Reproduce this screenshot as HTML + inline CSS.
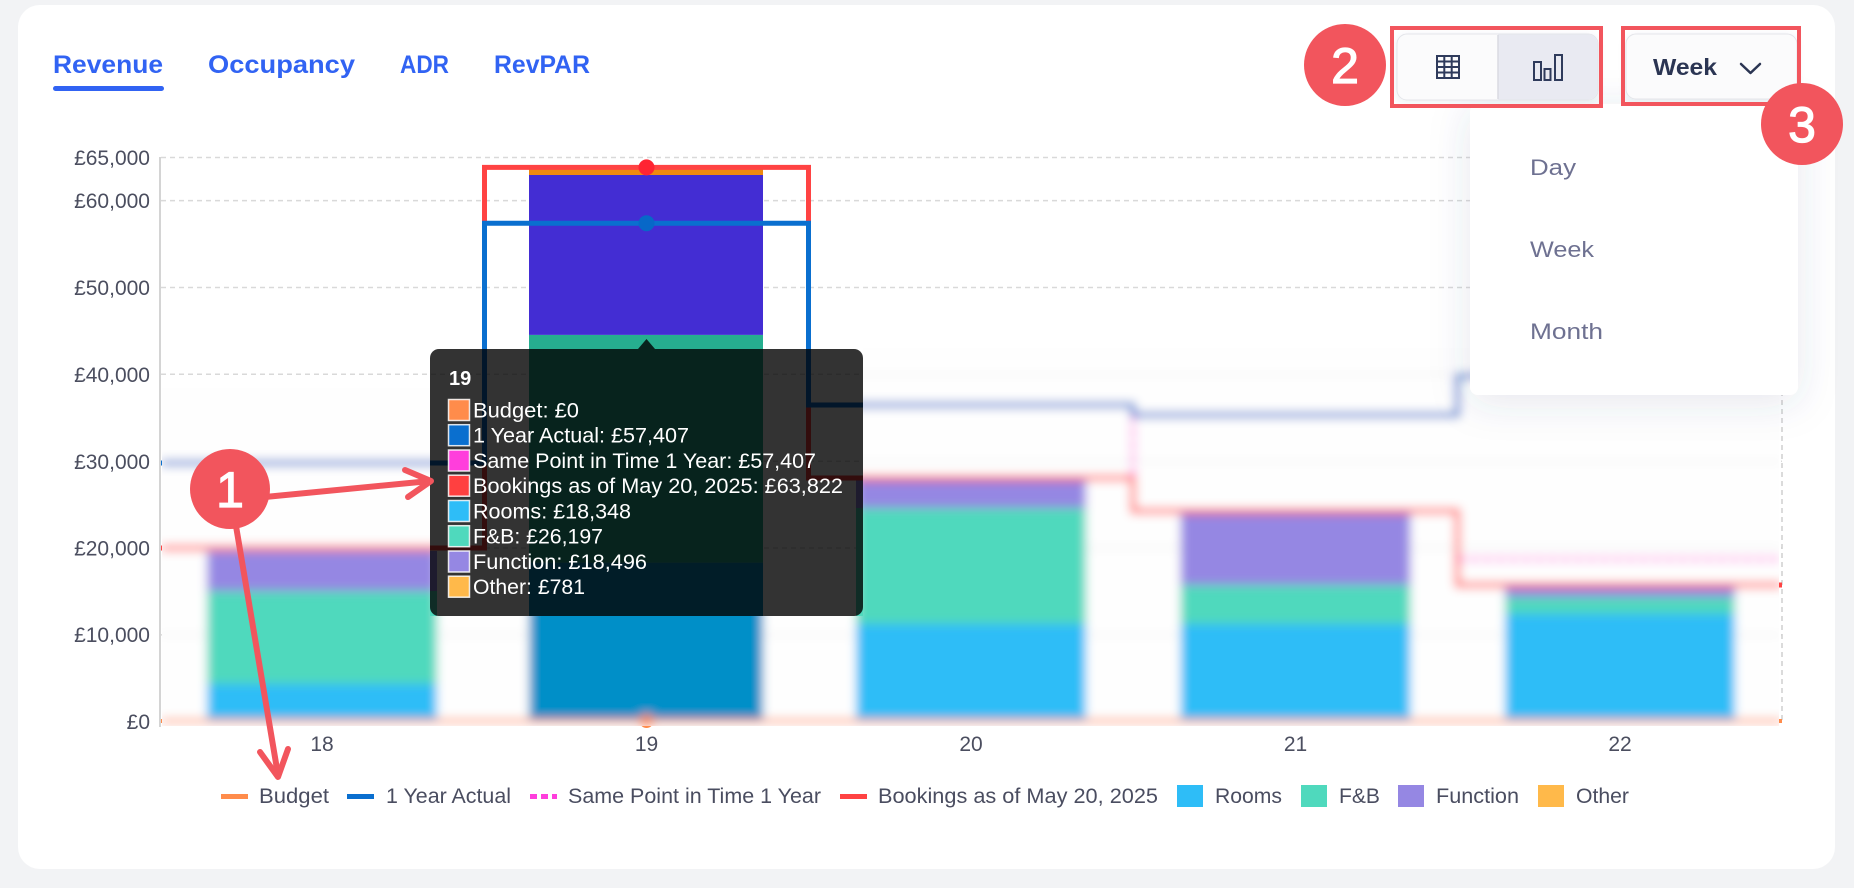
<!DOCTYPE html>
<html><head><meta charset="utf-8"><title>Revenue chart</title>
<style>
html,body{margin:0;padding:0;background:#f2f3f5;}
svg{display:block;}
text{font-family:"Liberation Sans",Arial,sans-serif;}
</style></head>
<body>
<svg width="1854" height="888" viewBox="0 0 1854 888" xmlns="http://www.w3.org/2000/svg">
<defs>
  <filter id="bl" x="-5%" y="-10%" width="110%" height="120%">
    <feGaussianBlur stdDeviation="5"/>
  </filter>
  <filter id="sh" x="-40%" y="-40%" width="180%" height="180%">
    <feGaussianBlur in="SourceAlpha" stdDeviation="20" result="b"/>
    <feOffset in="b" dy="6" result="o"/>
    <feFlood flood-color="#3a4a7a" flood-opacity="0.13"/>
    <feComposite in2="o" operator="in" result="s"/>
    <feMerge><feMergeNode in="s"/><feMergeNode in="SourceGraphic"/></feMerge>
  </filter>
  <filter id="sh2" x="-20%" y="-40%" width="140%" height="180%">
    <feGaussianBlur in="SourceAlpha" stdDeviation="4" result="b"/>
    <feOffset in="b" dy="2" result="o"/>
    <feFlood flood-color="#3a4a7a" flood-opacity="0.08"/>
    <feComposite in2="o" operator="in" result="s"/>
    <feMerge><feMergeNode in="s"/><feMergeNode in="SourceGraphic"/></feMerge>
  </filter>
  <clipPath id="bc">
    <rect x="162" y="388" width="268" height="338"/>
    <rect x="430" y="616" width="433" height="110"/>
    <rect x="863" y="348" width="916" height="378"/>
  </clipPath>
</defs>

<!-- page background & card -->
<rect x="0" y="0" width="1854" height="888" fill="#f2f3f5"/>
<rect x="18" y="5" width="1817" height="864" rx="22" fill="#ffffff"/>

<!-- tabs -->
<text x="53" y="73" font-size="25" font-weight="bold" fill="#3163f3" textLength="110" lengthAdjust="spacingAndGlyphs">Revenue</text>
<text x="208" y="73" font-size="25" font-weight="bold" fill="#3163f3" textLength="147" lengthAdjust="spacingAndGlyphs">Occupancy</text>
<text x="400" y="73" font-size="25" font-weight="bold" fill="#3163f3" textLength="49" lengthAdjust="spacingAndGlyphs">ADR</text>
<text x="494" y="73" font-size="25" font-weight="bold" fill="#3163f3" textLength="96" lengthAdjust="spacingAndGlyphs">RevPAR</text>
<rect x="53" y="86" width="111" height="5" rx="2.5" fill="#3163f3"/>

<!-- y axis labels -->
<g font-size="21" fill="#4b4e5f" text-anchor="end">
  <text x="150" y="165">£65,000</text>
  <text x="150" y="208">£60,000</text>
  <text x="150" y="295">£50,000</text>
  <text x="150" y="382">£40,000</text>
  <text x="150" y="469">£30,000</text>
  <text x="150" y="555.5">£20,000</text>
  <text x="150" y="642">£10,000</text>
  <text x="150" y="729">£0</text>
</g>

<!-- ========== SHARP CHART ========== -->
<g>
  <g stroke="#d9d9d9" stroke-width="1.5" stroke-dasharray="5 4" fill="none">
    <path d="M161,157.5H1782M161,200.6H1782M161,287.5H1782M161,374.3H1782M161,461.2H1782M161,548H1782M161,634.9H1782"/>
    <path d="M1782,157V722" stroke="#cfcfcf"/>
  </g>
  <!-- bars -->
  <rect x="207" y="684" width="230" height="36" fill="#2ebdf7"/>
  <rect x="207" y="591" width="230" height="93" fill="#4fd9bd"/>
  <rect x="207" y="551" width="230" height="40" fill="#9587e3"/>

  <rect x="529" y="562.6" width="234" height="157.4" fill="#068fc8"/>
  <rect x="529" y="334.9" width="234" height="227.7" fill="#26ae8f"/>
  <rect x="529" y="175" width="234" height="159.9" fill="#432dd3"/>
  <rect x="529" y="167.4" width="234" height="7.6" fill="#ee8a10"/>

  <rect x="856" y="624" width="230" height="96" fill="#2ebdf7"/>
  <rect x="856" y="508" width="230" height="116" fill="#4fd9bd"/>
  <rect x="856" y="478" width="230" height="30" fill="#9587e3"/>

  <rect x="1180.5" y="624" width="230" height="96" fill="#2ebdf7"/>
  <rect x="1180.5" y="585" width="230" height="39" fill="#4fd9bd"/>
  <rect x="1180.5" y="512" width="230" height="73" fill="#9587e3"/>

  <rect x="1505" y="614" width="230" height="106" fill="#2ebdf7"/>
  <rect x="1505" y="597" width="230" height="17" fill="#4fd9bd"/>
  <rect x="1505" y="587" width="230" height="10" fill="#9587e3"/>

  <!-- lines -->
  <path d="M161,721H1782" stroke="#ff8c4b" stroke-width="4" fill="none"/>
  <path d="M161,463H484.5V223.2H808.5V405H1133V511H1457.5V559H1782" stroke="#ff3edc" stroke-width="4" stroke-dasharray="8 5" fill="none"/>
  <path d="M161,548H484.5V167.4H808.5V478H1133V511H1457.5V585H1782" stroke="#ff4343" stroke-width="5" fill="none"/>
  <path d="M161,463H484.5V223.2H808.5V405H1133V415H1457.5V376H1782" stroke="#0a6fcf" stroke-width="5" fill="none"/>
  <circle cx="646.5" cy="721" r="7" fill="#ff8c4b"/>
  <circle cx="646.5" cy="167.4" r="8" fill="#ff2432"/>
  <circle cx="646.5" cy="223.2" r="8" fill="#0768c8"/>
</g>
<line x1="160" y1="157" x2="160" y2="727" stroke="#c5c5c5" stroke-width="1.5"/>

<!-- ========== BLURRED OVERLAY ========== -->
<g clip-path="url(#bc)">
 <g filter="url(#bl)">
  <rect x="100" y="300" width="1750" height="500" fill="#fefefe"/>
  <g stroke="#d9d9d9" stroke-width="1.5" stroke-dasharray="5 4" fill="none">
    <path d="M161,374.3H1782M161,461.2H1782M161,548H1782M161,634.9H1782"/>
  </g>
  <rect x="207" y="684" width="230" height="36" fill="#2ebdf7"/>
  <rect x="207" y="591" width="230" height="93" fill="#4fd9bd"/>
  <rect x="207" y="551" width="230" height="40" fill="#9587e3"/>

  <rect x="529" y="562.6" width="234" height="157.4" fill="#068fc8"/>
  <rect x="529" y="334.9" width="234" height="227.7" fill="#26ae8f"/>

  <rect x="856" y="624" width="230" height="96" fill="#2ebdf7"/>
  <rect x="856" y="508" width="230" height="116" fill="#4fd9bd"/>
  <rect x="856" y="478" width="230" height="30" fill="#9587e3"/>

  <rect x="1180.5" y="624" width="230" height="96" fill="#2ebdf7"/>
  <rect x="1180.5" y="585" width="230" height="39" fill="#4fd9bd"/>
  <rect x="1180.5" y="512" width="230" height="73" fill="#9587e3"/>

  <rect x="1505" y="614" width="230" height="106" fill="#2ebdf7"/>
  <rect x="1505" y="597" width="230" height="17" fill="#4fd9bd"/>
  <rect x="1505" y="587" width="230" height="10" fill="#9587e3"/>

  <path d="M161,721H1782" stroke="#ff8c4b" stroke-width="4" fill="none"/>
  <path d="M161,463H484.5V223.2H808.5V405H1133V511H1457.5V559H1782" stroke="#ff3edc" stroke-width="4" stroke-dasharray="8 5" fill="none"/>
  <path d="M161,548H484.5V167.4H808.5V478H1133V511H1457.5V585H1782" stroke="#ff4343" stroke-width="5" fill="none"/>
  <path d="M161,463H484.5V223.2H808.5V405H1133V415H1457.5V376H1782" stroke="#0a6fcf" stroke-width="5" fill="none"/>
  <circle cx="646.5" cy="721" r="7" fill="#ff8c4b"/>
 </g>
</g>

<!-- x labels -->
<g font-size="21" fill="#4b4e5f" text-anchor="middle">
  <text x="322" y="751">18</text>
  <text x="646.5" y="751">19</text>
  <text x="971" y="751">20</text>
  <text x="1295.5" y="751">21</text>
  <text x="1620" y="751">22</text>
</g>

<!-- legend -->
<g font-size="21.5" fill="#4a4d60">
  <rect x="221" y="794" width="27" height="5" fill="#ff8c4b"/>
  <text x="259" y="803" textLength="70" lengthAdjust="spacingAndGlyphs">Budget</text>
  <rect x="347" y="794" width="27" height="5" fill="#0a6fcf"/>
  <text x="386" y="803" textLength="125" lengthAdjust="spacingAndGlyphs">1 Year Actual</text>
  <rect x="530" y="794" width="7" height="5" fill="#ff3edc"/>
  <rect x="541" y="794" width="7" height="5" fill="#ff3edc"/>
  <rect x="552" y="794" width="5" height="5" fill="#ff3edc"/>
  <text x="568" y="803" textLength="253" lengthAdjust="spacingAndGlyphs">Same Point in Time 1 Year</text>
  <rect x="840" y="794" width="27" height="5" fill="#ff4343"/>
  <text x="878" y="803" textLength="280" lengthAdjust="spacingAndGlyphs">Bookings as of May 20, 2025</text>
  <rect x="1177" y="785" width="26" height="22" fill="#2ebdf7"/>
  <text x="1215" y="803" textLength="67" lengthAdjust="spacingAndGlyphs">Rooms</text>
  <rect x="1301" y="785" width="26" height="22" fill="#4fd9bd"/>
  <text x="1339" y="803" textLength="41" lengthAdjust="spacingAndGlyphs">F&amp;B</text>
  <rect x="1398" y="785" width="26" height="22" fill="#9587e3"/>
  <text x="1436" y="803" textLength="83" lengthAdjust="spacingAndGlyphs">Function</text>
  <rect x="1538" y="785" width="26" height="22" fill="#ffb94a"/>
  <text x="1576" y="803" textLength="53" lengthAdjust="spacingAndGlyphs">Other</text>
</g>

<!-- tooltip -->
<g>
  <rect x="430" y="349" width="433" height="267" rx="9" fill="#000" fill-opacity="0.8"/>
  <path d="M638,349L646.5,339L655,349Z" fill="#000" fill-opacity="0.8"/>
  <text x="449" y="385" font-size="20" font-weight="bold" fill="#fff">19</text>
  <g stroke="#ffffff" stroke-opacity="0.85" stroke-width="1.5">
    <rect x="448.5" y="399.5" width="21" height="21" fill="#ff8c4b"/>
    <rect x="448.5" y="424.7" width="21" height="21" fill="#0a6fcf"/>
    <rect x="448.5" y="450" width="21" height="21" fill="#ff3edc"/>
    <rect x="448.5" y="475.2" width="21" height="21" fill="#ff4040"/>
    <rect x="448.5" y="500.5" width="21" height="21" fill="#2ebdf7"/>
    <rect x="448.5" y="525.7" width="21" height="21" fill="#4fd9bd"/>
    <rect x="448.5" y="551" width="21" height="21" fill="#9587e3"/>
    <rect x="448.5" y="576.2" width="21" height="21" fill="#ffb94a"/>
  </g>
  <g font-size="21" fill="#ffffff">
    <text x="473" y="417.3" textLength="106" lengthAdjust="spacingAndGlyphs">Budget: £0</text>
    <text x="473" y="442.5" textLength="216" lengthAdjust="spacingAndGlyphs">1 Year Actual: £57,407</text>
    <text x="473" y="467.8" textLength="343" lengthAdjust="spacingAndGlyphs">Same Point in Time 1 Year: £57,407</text>
    <text x="473" y="493" textLength="370" lengthAdjust="spacingAndGlyphs">Bookings as of May 20, 2025: £63,822</text>
    <text x="473" y="518.3" textLength="158" lengthAdjust="spacingAndGlyphs">Rooms: £18,348</text>
    <text x="473" y="543.5" textLength="130" lengthAdjust="spacingAndGlyphs">F&amp;B: £26,197</text>
    <text x="473" y="568.8" textLength="174" lengthAdjust="spacingAndGlyphs">Function: £18,496</text>
    <text x="473" y="594" textLength="112" lengthAdjust="spacingAndGlyphs">Other: £781</text>
  </g>
</g>

<!-- dropdown panel -->
<g filter="url(#sh)">
  <rect x="1470" y="104" width="328" height="291" rx="8" fill="#ffffff"/>
</g>
<g font-size="22" fill="#6e7191">
  <text x="1530" y="175" textLength="46" lengthAdjust="spacingAndGlyphs">Day</text>
  <text x="1530" y="257" textLength="64" lengthAdjust="spacingAndGlyphs">Week</text>
  <text x="1530" y="339" textLength="73" lengthAdjust="spacingAndGlyphs">Month</text>
</g>

<!-- toggle group -->
<g filter="url(#sh2)">
  <rect x="1397" y="34" width="201" height="66" rx="10" fill="#fbfbfc" stroke="#e4e5ea" stroke-width="1"/>
</g>
<path d="M1498,34.5H1588A9.5,9.5 0 0 1 1597.5,44V90A9.5,9.5 0 0 1 1588,99.5H1498Z" fill="#e9eaf2"/>
<line x1="1498" y1="35" x2="1498" y2="99" stroke="#d9dae2" stroke-width="1.5"/>
<g stroke="#2f3b5c" stroke-width="2" fill="none">
  <rect x="1437" y="56" width="22" height="22"/>
  <path d="M1444.3,56V78M1451.7,56V78M1437,61.5H1459M1437,67H1459M1437,72.5H1459"/>
  <rect x="1534" y="62" width="7" height="18"/>
  <rect x="1544.5" y="69" width="6" height="11"/>
  <rect x="1555" y="55" width="7" height="25"/>
</g>

<!-- week button -->
<g filter="url(#sh2)">
  <rect x="1626" y="34" width="171" height="65" rx="10" fill="#fbfbfc" stroke="#e4e5ea" stroke-width="1"/>
</g>
<text x="1653" y="75" font-size="23" font-weight="bold" fill="#2b3553" textLength="64" lengthAdjust="spacingAndGlyphs">Week</text>
<polyline points="1741,64 1750.5,73 1760,64" stroke="#2b3553" stroke-width="2.5" fill="none" stroke-linecap="round" stroke-linejoin="round"/>

<!-- annotations -->
<g stroke="#f2555d" fill="none" stroke-width="4">
  <rect x="1392" y="28" width="209" height="78"/>
  <rect x="1623" y="28" width="176" height="76"/>
</g>
<g stroke="#f2555d" stroke-width="6" fill="none" stroke-linecap="round" stroke-linejoin="round">
  <path d="M265,497L430,481"/>
  <path d="M405,470L431,481L408,497"/>
  <path d="M236,526L278,775"/>
  <path d="M260,752L278,777L288,749"/>
</g>
<g fill="#f2555d">
  <circle cx="230" cy="489" r="40"/>
  <circle cx="1345" cy="65" r="41"/>
  <circle cx="1802" cy="124" r="41"/>
</g>
<g font-size="50" fill="#ffffff" stroke="#ffffff" stroke-width="1.2" text-anchor="middle">
  <text x="230" y="507">1</text>
  <text x="1345" y="83">2</text>
  <text x="1802" y="142">3</text>
</g>
</svg>
</body></html>
